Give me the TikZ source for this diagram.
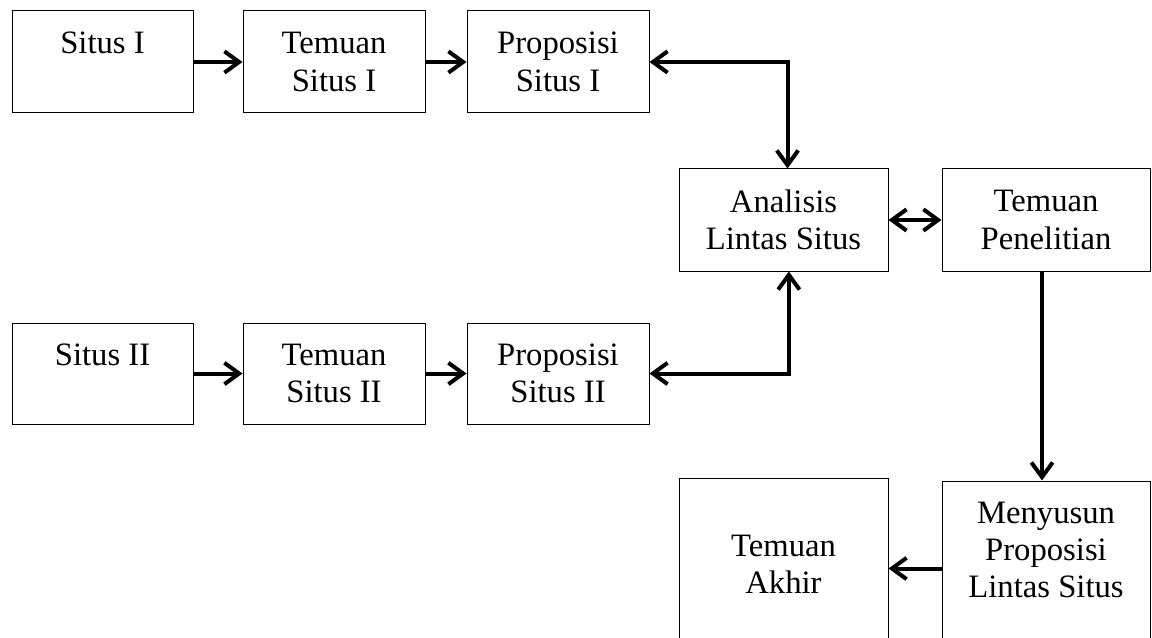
\documentclass[tikz,border=0pt]{standalone}
\usepackage{fontspec}
\setmainfont{Liberation Serif}
\usetikzlibrary{arrows.meta}

\tikzset{every picture/.style={line width=0.75pt}}
\tikzset{
  kotak/.style={draw, rectangle, inner sep=0pt, align=center,
    font=\fontsize{24.5}{28}\selectfont},
  panah/.style={line width=3pt, -{Straight Barb[length=11pt,width=16pt,line width=3pt]}},
  panahdua/.style={line width=3pt, {Straight Barb[length=11pt,width=16pt,line width=3pt]}-{Straight Barb[length=11pt,width=16pt,line width=3pt]}}
}

\begin{document}
\begin{tikzpicture}[x=0.75pt,y=0.75pt,yscale=-1,xscale=1]
	\useasboundingbox (0,0) rectangle (1152,638);
	\clip (0,0) rectangle (1152,638);

	% Situs I row
	\node[kotak, minimum width=181*0.75pt, minimum height=102*0.75pt] (situsA) at (102.5,62) {Situs I\\\phantom{Situs I}};
	\node[kotak, minimum width=182*0.75pt, minimum height=102*0.75pt] (temuanA) at (334,62) {Temuan\\Situs I};
	\node[kotak, minimum width=182*0.75pt, minimum height=102*0.75pt] (proposisiA) at (558,62) {Proposisi\\Situs I};

	% Situs II row
	\node[kotak, minimum width=181*0.75pt, minimum height=101*0.75pt] (situsB) at (102.5,373.5) {Situs II\\\phantom{Situs II}};
	\node[kotak, minimum width=182*0.75pt, minimum height=101*0.75pt] (temuanB) at (334,373.5) {Temuan\\Situs II};
	\node[kotak, minimum width=182*0.75pt, minimum height=101*0.75pt] (proposisiB) at (558,373.5) {Proposisi\\Situs II};

	% lintas situs
	\node[kotak, minimum width=209*0.75pt, minimum height=102*0.75pt] (analisis) at (783.5,220) {Analisis\\Lintas Situs};
	\node[kotak, minimum width=208*0.75pt, minimum height=102*0.75pt] (penelitian) at (1046,220) {Temuan\\Penelitian};

	% bottom boxes (cut by the page edge)
	\node[kotak, minimum width=209*0.75pt, minimum height=172*0.75pt] (akhir) at (783.5,564) {Temuan\\Akhir};
	\node[kotak, minimum width=208*0.75pt, minimum height=175*0.75pt] (menyusun) at (1046,568.5) {Menyusun\\Proposisi\\Lintas Situs\\\phantom{Lintas}};

	% arrows
	\draw[panah] (situsA) -- (temuanA);
	\draw[panah] (temuanA) -- (proposisiA);
	\draw[panah] (situsB) -- (temuanB);
	\draw[panah] (temuanB) -- (proposisiB);
	\draw[panahdua] (proposisiA.east) -| ([xshift=3pt]analisis.north);
	\draw[panahdua] (proposisiB.east) -| ([xshift=4pt]analisis.south);
	\draw[panahdua] (analisis) -- (penelitian);
	\draw[panah] ([xshift=-3pt]penelitian.south) -- ([xshift=-3pt]menyusun.north);
	\draw[panah] (menyusun.west) -- (akhir.east |- menyusun.west);

\end{tikzpicture}
\end{document}
